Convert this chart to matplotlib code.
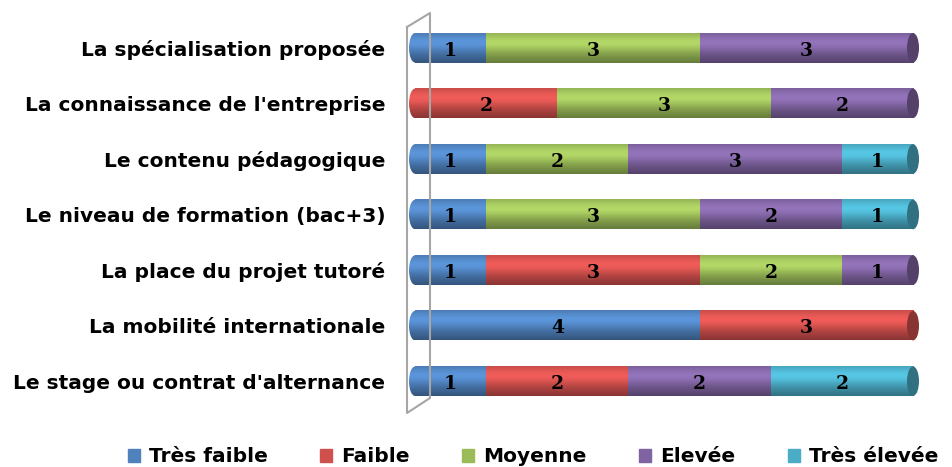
import matplotlib.pyplot as plt
import numpy as np
from matplotlib.patches import Ellipse
from matplotlib.lines import Line2D
from matplotlib.colors import to_rgb

plt.rcParams['font.family'] = 'DejaVu Sans'

# Données (de haut en bas)
criteres = ['La spécialisation proposée',
            "La connaissance de l'entreprise",
            'Le contenu pédagogique',
            'Le niveau de formation (bac+3)',
            'La place du projet tutoré',
            'La mobilité internationale',
            "Le stage ou contrat d'alternance"]
niveaux = ['Très faible', 'Faible', 'Moyenne', 'Elevée', 'Très élevée']
tres_faible = [1, 0, 1, 1, 1, 4, 1]
faible      = [0, 2, 0, 0, 3, 3, 2]
moyenne     = [3, 3, 2, 3, 2, 0, 0]
elevee      = [3, 2, 3, 2, 1, 0, 2]
tres_elevee = [0, 0, 1, 1, 0, 0, 2]
series = [tres_faible, faible, moyenne, elevee, tres_elevee]
couleurs = ['#4F81BD', '#D0504D', '#9BBB59', '#8064A2', '#4BACC6']

fig = plt.figure(figsize=(9.52, 4.67), dpi=100)
# axe élargi pour contenir les extrémités arrondies
ax = fig.add_axes([409 / 952, 1 - 409 / 467, 510 / 952, 389 / 467])

h = 0.53
# profil de cylindre (haut -> bas)
t = np.linspace(0, 1, 60)
prof = 0.88 + 0.28 * np.exp(-((t - 0.32) / 0.3) ** 2) - 0.22 * t ** 3
prof = prof[:, None]

def gradient(col):
    c = np.array(to_rgb(col))
    return np.clip(c[None, None, :] * prof[:, :, None], 0, 1)

cap_w = 12 / 71.14  # largeur des ellipses en unités de données
for i in range(len(criteres)):
    left = 0
    first = None
    last = None
    for s, col in zip(series, couleurs):
        v = s[i]
        if v == 0:
            continue
        if first is None:
            first = col
        ax.imshow(gradient(col), extent=(left, left + v, i + h / 2, i - h / 2),
                  aspect='auto', interpolation='bilinear', zorder=2)
        ax.text(left + v / 2, i + 0.05, str(v), ha='center', va='center',
                fontsize=13.5, fontweight='bold', family='DejaVu Serif', zorder=5)
        left += v
        last = col
    # bout gauche arrondi
    el = Ellipse((0, i), cap_w, h, facecolor='none', edgecolor='none')
    ax.add_patch(el)
    im = ax.imshow(gradient(first), extent=(-cap_w / 2, 0.01, i + h / 2, i - h / 2),
                   aspect='auto', interpolation='bilinear', zorder=2)
    im.set_clip_path(el)
    # face droite
    c = np.array(to_rgb(last)) * 0.65
    ax.add_patch(Ellipse((left, i), cap_w, h, facecolor=c, edgecolor='none', zorder=3))

ax.set_xlim(-cap_w / 2, 7 + cap_w / 2)
ax.set_ylim(len(criteres) - 0.5, -0.5)
ax.set_yticks(range(len(criteres)))
ax.set_yticklabels(criteres, fontsize=14.5, fontweight='bold')
ax.tick_params(axis='y', length=0, pad=17)
ax.set_xticks([])
for sp in ax.spines.values():
    sp.set_visible(False)

# paroi 3D
wx = [407 / 952, 407 / 952, 430 / 952, 430 / 952, 407 / 952]
wy = [1 - 27 / 467, 1 - 413 / 467, 1 - 398 / 467, 1 - 13 / 467, 1 - 27 / 467]
fig.add_artist(Line2D(wx, wy, color='#A6A6A6', lw=1.5, zorder=1))

handles = [plt.Rectangle((0, 0), 1, 1, color=c) for c in couleurs]
fig.legend(handles, niveaux, loc='center', bbox_to_anchor=(0.56, 1 - 457 / 467),
           ncol=5, frameon=False, prop={'size': 14.5, 'weight': 'bold'},
           handlelength=0.6, handleheight=0.6, handletextpad=0.45,
           columnspacing=2.6)

fig.savefig('out.png', dpi=100)
